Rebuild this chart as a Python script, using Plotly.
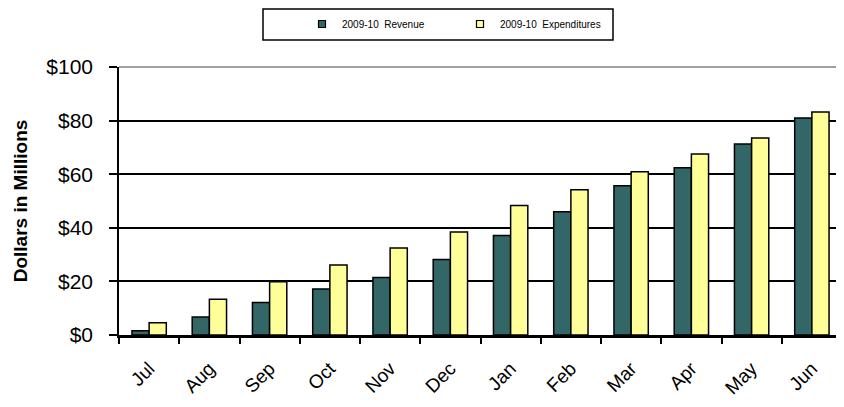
import plotly.graph_objects as go

months = ["Jul", "Aug", "Sep", "Oct", "Nov", "Dec", "Jan", "Feb", "Mar", "Apr", "May", "Jun"]
revenue = [1.6, 6.7, 12.1, 17.2, 21.5, 28.2, 37.1, 46.0, 55.7, 62.4, 71.3, 81.0]
expenditures = [4.6, 13.3, 19.9, 26.1, 32.5, 38.4, 48.3, 54.2, 60.9, 67.5, 73.5, 83.2]
series_names = ["2009-10  Revenue", "2009-10  Expenditures"]
series_colors = ["#336666", "#FFFF99"]

FONT = "Liberation Sans, Arial, sans-serif"

# page body margin offsets the figure by 8px; compensate
OFF = 8
W, H = 844 - OFF, 407 - OFF
L, R, T, B = 119 - OFF, 2, 67 - OFF, 72
pw, ph = W - L - R, H - T - B

def px_x(x):
    return (x - OFF - L) / pw

def px_y(y):
    return (H - B - (y - OFF)) / ph

fig = go.Figure()
for vals, name, col in zip([revenue, expenditures], series_names, series_colors):
    fig.add_trace(go.Bar(x=months, y=vals, name=name, showlegend=False,
                         marker=dict(color=col, line=dict(color="black", width=1.5))))
# legend entries with small square swatches
for name, col in zip(series_names, series_colors):
    fig.add_trace(go.Scatter(x=[None], y=[None], mode="markers", name=name,
                             marker=dict(symbol="square", size=7, color=col,
                                         line=dict(color="black", width=1.2))))

fig.update_layout(
    width=W, height=H,
    margin=dict(l=L, r=R, t=T, b=B),
    paper_bgcolor="white", plot_bgcolor="white",
    font=dict(family=FONT, color="black"),
    barmode="group", bargap=0.43, bargroupgap=0,
    showlegend=True,
    legend=dict(orientation="h", x=px_x(302), y=px_y(24), xanchor="left", yanchor="middle",
                font=dict(size=10, family=FONT), bgcolor="rgba(0,0,0,0)",
                entrywidth=113, entrywidthmode="pixels", itemwidth=30),
    shapes=[
        dict(type="rect", xref="paper", yref="paper", x0=px_x(263), x1=px_x(613),
             y0=px_y(40), y1=px_y(9), line=dict(color="black", width=1.5)),
        dict(type="line", xref="paper", yref="paper", x0=0, x1=1, y0=1, y1=1,
             line=dict(color="#808080", width=1.5)),
        dict(type="line", xref="paper", yref="paper", x0=1, x1=1, y0=0, y1=1,
             line=dict(color="#808080", width=1.5)),
    ],
)

fig.update_xaxes(
    type="category", tickson="boundaries", ticks="outside", ticklen=6, tickwidth=1.5,
    tickcolor="black", showline=True, linecolor="black", linewidth=3,
    tickangle=-45, tickfont=dict(size=19, family=FONT), showgrid=False,
    ticklabelstandoff=12,
)
fig.update_yaxes(
    range=[0, 100], dtick=20, tickprefix="$", ticks="outside", ticklen=8, tickwidth=1.5,
    tickcolor="black", showline=True, linecolor="black", linewidth=1.5,
    showgrid=True, gridcolor="black", gridwidth=1.5, zeroline=False,
    tickfont=dict(size=21, family=FONT), ticklabelstandoff=12,
    title=dict(text="<b>Dollars in Millions</b>", font=dict(size=19, family=FONT), standoff=14),
)

fig.write_html("out.html")
